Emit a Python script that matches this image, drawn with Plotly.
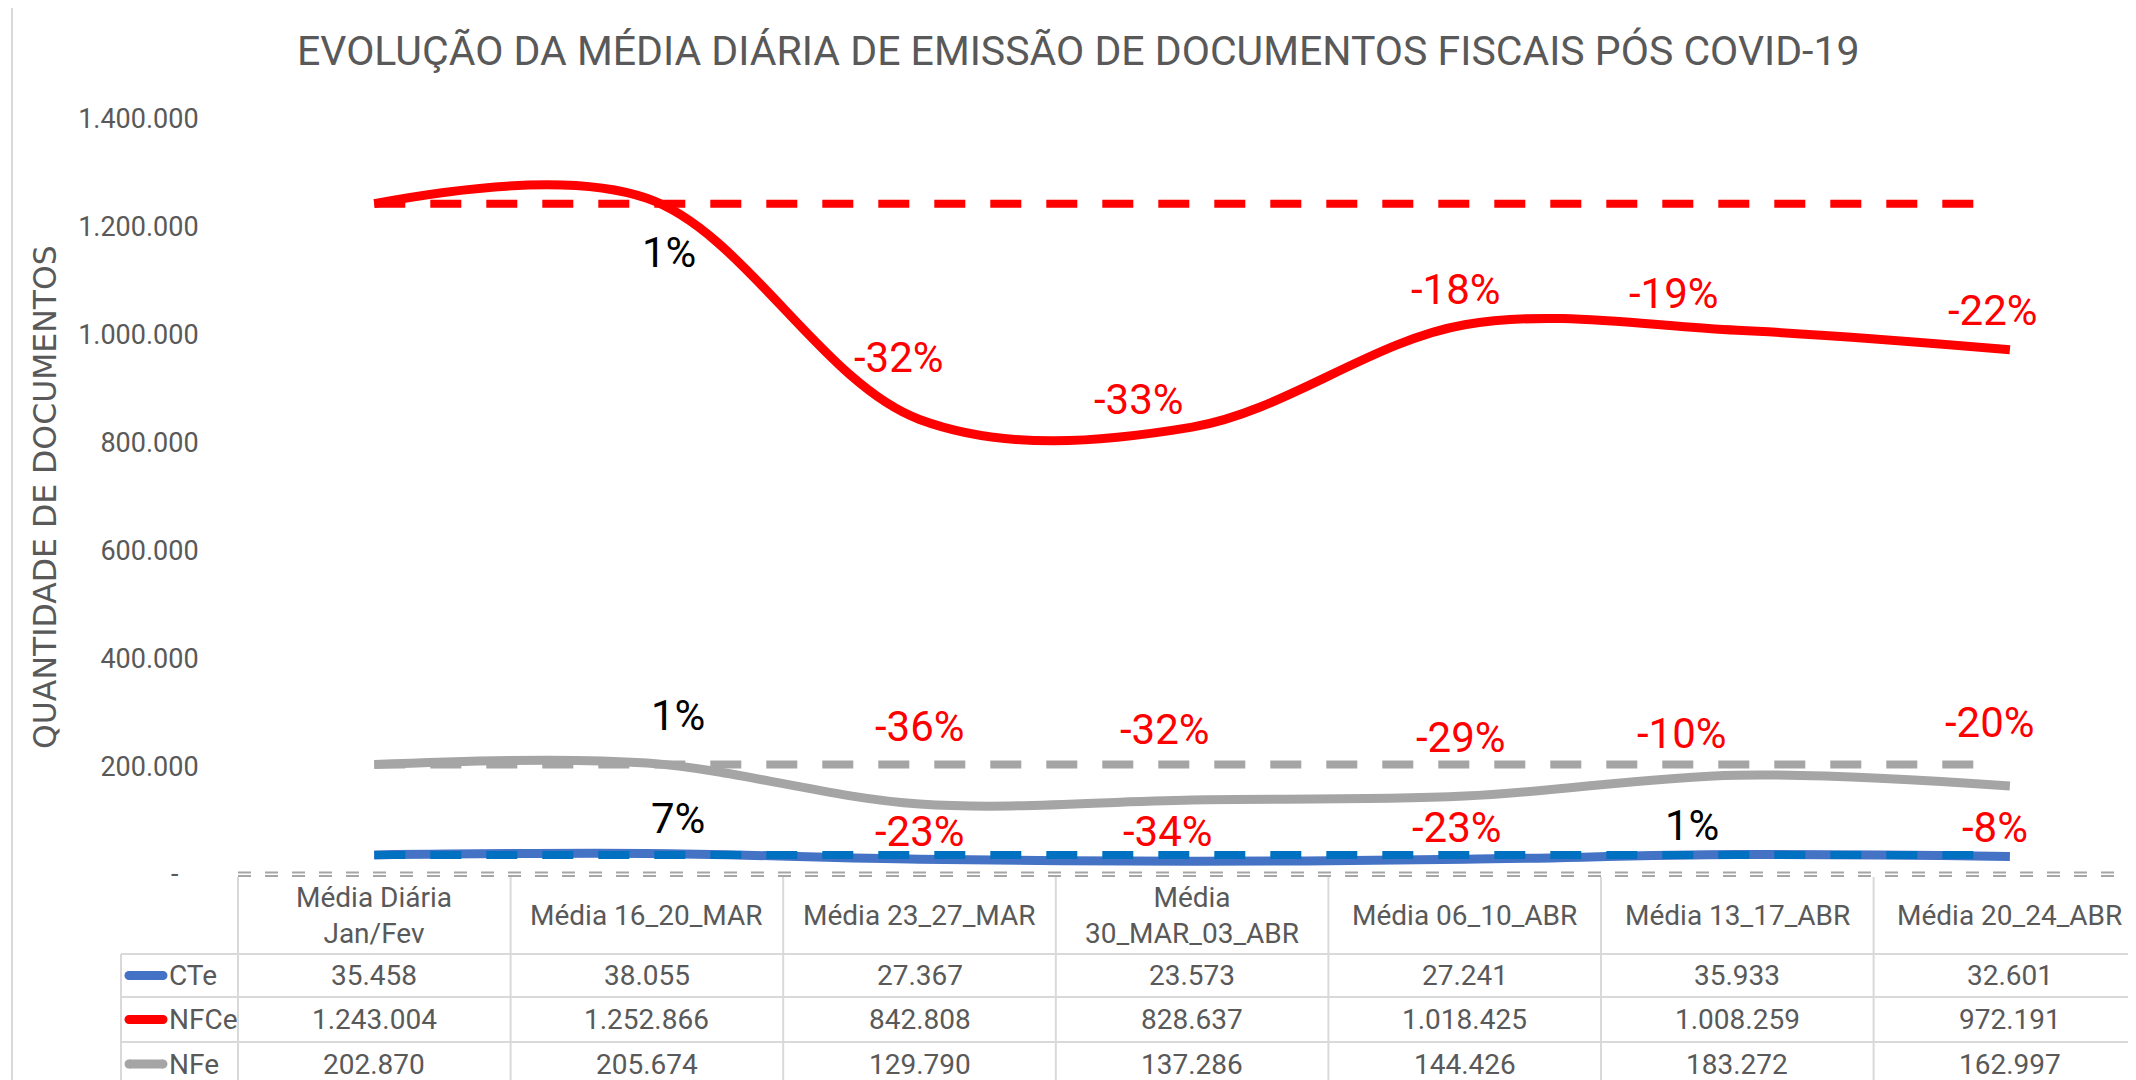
import plotly.graph_objects as go

# ---------------- data ----------------
categories = ["Média Diária<br>Jan/Fev", "Média 16_20_MAR", "Média 23_27_MAR",
              "Média<br>30_MAR_03_ABR", "Média 06_10_ABR", "Média 13_17_ABR",
              "Média 20_24_ABR"]
series_names = ["CTe", "NFCe", "NFe"]
cte = [35458, 38055, 27367, 23573, 27241, 35933, 32601]
nfce = [1243004, 1252866, 842808, 828637, 1018425, 1008259, 972191]
nfe = [202870, 205674, 129790, 137286, 144426, 183272, 162997]
y_tick_vals = [0, 200000, 400000, 600000, 800000, 1000000, 1200000, 1400000]
y_tick_text = ["-&nbsp;&nbsp;&nbsp;", "200.000", "400.000", "600.000", "800.000",
               "1.000.000", "1.200.000", "1.400.000"]

title_text = "EVOLUÇÃO DA MÉDIA DIÁRIA DE EMISSÃO DE DOCUMENTOS FISCAIS PÓS COVID-19"
ytitle_text = "QUANTIDADE DE DOCUMENTOS"

# ---------------- styles / layout geometry (screen pixels) ----------------
W, H = 2136, 1080
OFF = 8                      # default page body margin
L, R, T, B = 238, 2136, 119, 874
COL_W = 272.6
XR0 = -0.5
XR1 = XR0 + (R - L) / COL_W

solid_colors = {"CTe": "#4472C4", "NFCe": "#FF0000", "NFe": "#A5A5A5"}
dash_colors = {"CTe": "#0070C0", "NFCe": "#FF0000", "NFe": "#A5A5A5"}
TXT = "#595959"
GRID = "#D9D9D9"
FONT = "Roboto, 'Open Sans', sans-serif"
DASH_PATTERN = ",".join(["31px,25px"] * 28 + ["31px,300px"])

# label pixel offsets (placement of the percentage labels)
label_shift = {
    "CTe":  [None, (31, 35), (0, 28), (-24, 30), (-8, 32), (-45, 29), (-15, 29)],
    "NFCe": [None, (22, -54), (-21, 62), (-53, 28), (-9, 35), (-63, 37), (-17, 39)],
    "NFe":  [None, (31, 48), (0, 78), (-27, 70), (-4, 59), (-55, 42), (-20, 64)],
}


def px_x(p):
    return (p - L) / (R - L)


def px_y(p):
    return (B - p) / (B - T)


def cat_px(c):
    return L + (c - XR0) / (XR1 - XR0) * (R - L)


data = {"CTe": cte, "NFCe": nfce, "NFe": nfe}
xs = list(range(len(categories)))

fig = go.Figure()

for name in series_names:
    fig.add_trace(go.Scatter(
        x=xs, y=data[name], mode="lines", name=name,
        line=dict(color=solid_colors[name], width=9, shape="spline", smoothing=1.0),
        hoverinfo="x+y", showlegend=False))

for name in series_names:
    base = [data[name][0]] * len(xs)
    fig.add_trace(go.Scatter(
        x=xs, y=base, mode="lines", name=name + " média Jan/Fev",
        line=dict(color=dash_colors[name], width=8, dash=DASH_PATTERN),
        hoverinfo="skip", showlegend=False))

annotations = []
shapes = []

# percentage labels
for name in series_names:
    vals = data[name]
    for i in range(1, len(vals)):
        pct = round((vals[i] / vals[0] - 1) * 100)
        color = "#000000" if pct >= 0 else "#FF0000"
        dx, dy = label_shift[name][i]
        annotations.append(dict(
            x=i, y=vals[i], xref="x", yref="y", text=f"{pct}%", showarrow=False,
            xshift=dx, yshift=dy, font=dict(family=FONT, size=42, color=color),
            xanchor="center", yanchor="middle"))

# title
annotations.append(dict(
    x=px_x(1078), y=px_y(51), xref="paper", yref="paper", text=title_text,
    showarrow=False, xanchor="center", yanchor="middle",
    font=dict(family=FONT, size=41, color=TXT)))

# y axis title
annotations.append(dict(
    x=px_x(45), y=px_y(497), xref="paper", yref="paper", text=ytitle_text,
    showarrow=False, xanchor="center", yanchor="middle", textangle=-90,
    font=dict(family="DejaVu Sans, sans-serif", size=31.5, color=TXT)))

# ---------------- data table ----------------
HEADER_BOTTOM = 954
ROW_BOUNDS = [954, 997, 1042, 1086]
TABLE_LEFT = 121

# dashed category axis line
for yy in (872.5, 876):
    shapes.append(dict(type="line", xref="paper", yref="paper",
                       x0=px_x(L), x1=px_x(R), y0=px_y(yy), y1=px_y(yy),
                       line=dict(color="#A6A6A6", width=2, dash="13px,14px")))

# vertical column lines
for i in range(len(categories) + 1):
    xp = cat_px(i - 0.5)
    if xp > W:
        continue
    shapes.append(dict(type="line", xref="paper", yref="paper",
                       x0=px_x(xp), x1=px_x(xp), y0=px_y(B + 3), y1=px_y(H + 10),
                       line=dict(color=GRID, width=2)))
shapes.append(dict(type="line", xref="paper", yref="paper",
                   x0=px_x(TABLE_LEFT), x1=px_x(TABLE_LEFT),
                   y0=px_y(HEADER_BOTTOM), y1=px_y(H + 10),
                   line=dict(color=GRID, width=2)))
for yy in ROW_BOUNDS:
    shapes.append(dict(type="line", xref="paper", yref="paper",
                       x0=px_x(TABLE_LEFT), x1=px_x(W), y0=px_y(yy), y1=px_y(yy),
                       line=dict(color=GRID, width=2)))

# header texts
for i, c in enumerate(categories):
    annotations.append(dict(
        x=i, xref="x", y=px_y((B + HEADER_BOTTOM) / 2 + 1), yref="paper", text=c,
        showarrow=False, xanchor="center", yanchor="middle",
        font=dict(family=FONT, size=28, color=TXT)))

# rows
KEY_R = 4.5
for r, name in enumerate(series_names):
    yc = (ROW_BOUNDS[r] + ROW_BOUNDS[r + 1]) / 2
    k0, k1 = 129, 163
    shapes.append(dict(type="line", xref="paper", yref="paper",
                       x0=px_x(k0), x1=px_x(k1), y0=px_y(yc), y1=px_y(yc),
                       line=dict(color=solid_colors[name], width=2 * KEY_R)))
    for cx in (k0, k1):
        shapes.append(dict(type="circle", xref="paper", yref="paper",
                           x0=px_x(cx - KEY_R), x1=px_x(cx + KEY_R),
                           y0=px_y(yc + KEY_R), y1=px_y(yc - KEY_R),
                           fillcolor=solid_colors[name], line=dict(width=0)))
    annotations.append(dict(
        x=px_x(167), y=px_y(yc), xref="paper", yref="paper", text=name,
        showarrow=False, xanchor="left", yanchor="middle",
        font=dict(family=FONT, size=28, color=TXT)))
    for i, v in enumerate(data[name]):
        annotations.append(dict(
            x=i, xref="x", y=px_y(yc), yref="paper",
            text=f"{v:,}".replace(",", "."), showarrow=False,
            xanchor="center", yanchor="middle",
            font=dict(family=FONT, size=28, color=TXT)))

# outer chart border
shapes.append(dict(type="line", xref="paper", yref="paper",
                   x0=px_x(12), x1=px_x(W + 5), y0=px_y(6), y1=px_y(6),
                   line=dict(color=GRID, width=2)))
shapes.append(dict(type="line", xref="paper", yref="paper",
                   x0=px_x(12), x1=px_x(12), y0=px_y(6), y1=px_y(H + 5),
                   line=dict(color=GRID, width=2)))

fig.update_layout(
    width=W - OFF, height=H - OFF,
    margin=dict(l=L - OFF, r=W - R, t=T - OFF, b=H - B, pad=0),
    paper_bgcolor="white", plot_bgcolor="white",
    showlegend=False,
    xaxis=dict(range=[XR0, XR1], showticklabels=False, showgrid=False,
               zeroline=False, showline=False, ticks=""),
    yaxis=dict(range=[0, 1400000], tickvals=y_tick_vals, ticktext=y_tick_text,
               showgrid=False, zeroline=False, showline=False,
               ticks="outside", ticklen=33, tickcolor="rgba(0,0,0,0)",
               tickfont=dict(family=FONT, size=27, color=TXT)),
    annotations=annotations,
    shapes=shapes,
)

fig.write_html("out.html")
